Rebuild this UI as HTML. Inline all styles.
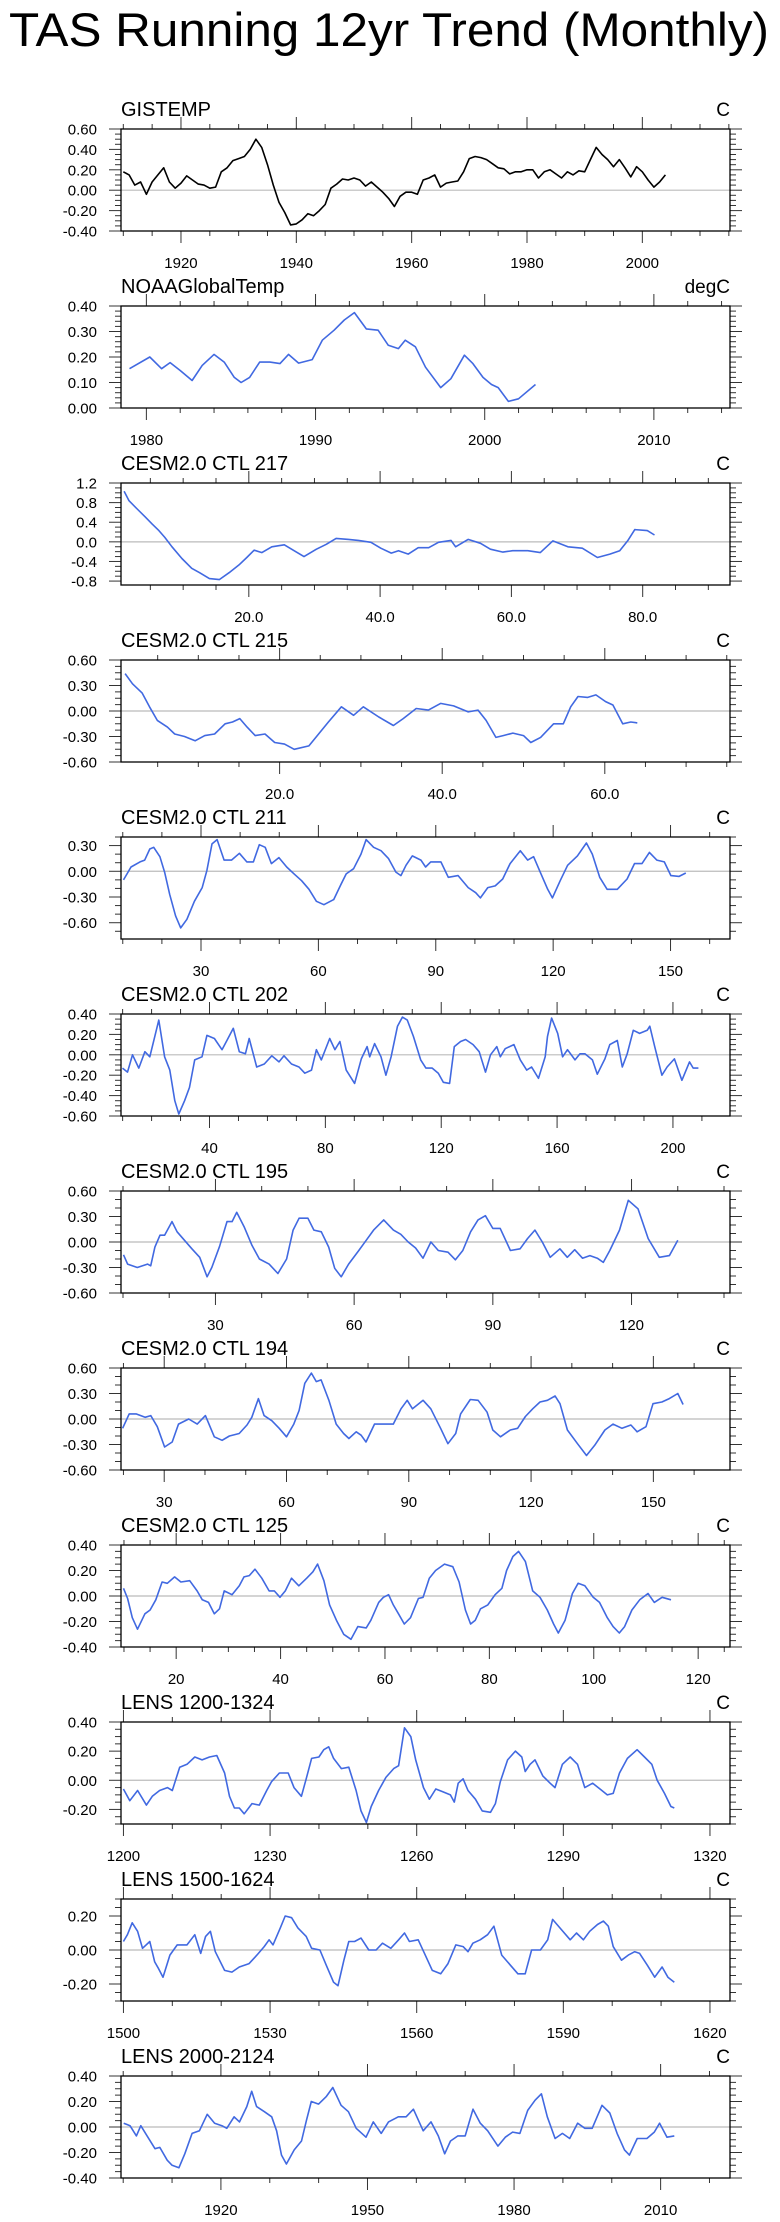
<!DOCTYPE html>
<html><head><meta charset="utf-8">
<style>
html,body{margin:0;padding:0;background:#fff;}
svg{display:block;font-family:"Liberation Sans",Arial,sans-serif;}
</style></head>
<body>
<svg id="chart" width="780" height="2222" viewBox="0 0 780 2222" xmlns="http://www.w3.org/2000/svg">
<text x="9" y="46" font-size="47" textLength="760" lengthAdjust="spacingAndGlyphs" fill="#000">TAS Running 12yr Trend (Monthly)</text>
</svg>
<script>
// ---- data arrays ----
const gisYears = [];
for (let y = 1910; y <= 2004; y++) gisYears.push(y);
const gisVals = [0.18,0.15,0.05,0.08,-0.04,0.08,0.15,0.22,0.08,0.02,0.07,0.14,0.10,0.06,0.05,0.02,0.03,0.18,0.22,0.29,0.31,0.33,0.40,0.50,0.42,0.25,0.05,-0.12,-0.22,-0.34,-0.33,-0.29,-0.23,-0.25,-0.20,-0.14,0.02,0.06,0.11,0.10,0.12,0.10,0.04,0.08,0.03,-0.02,-0.08,-0.16,-0.06,-0.02,-0.02,-0.04,0.10,0.12,0.15,0.03,0.07,0.08,0.09,0.18,0.31,0.33,0.32,0.30,0.26,0.22,0.21,0.16,0.18,0.18,0.20,0.20,0.12,0.18,0.20,0.16,0.12,0.18,0.15,0.19,0.18,0.30,0.42,0.35,0.30,0.23,0.30,0.22,0.13,0.23,0.18,0.10,0.03,0.08,0.15];

const noaaX = [1979.0,1980.2,1980.9,1981.4,1982.0,1982.7,1983.3,1984.0,1984.6,1985.2,1985.6,1986.1,1986.7,1987.3,1987.9,1988.4,1989.0,1989.8,1990.4,1991.1,1991.7,1992.3,1993.0,1993.7,1994.3,1994.9,1995.3,1995.9,1996.5,1997.4,1998.0,1998.8,1999.3,1999.9,2000.4,2000.8,2001.4,2002.0,2003.0];
const noaaY = [0.154,0.20,0.154,0.178,0.147,0.108,0.167,0.21,0.18,0.12,0.10,0.12,0.18,0.18,0.174,0.21,0.176,0.19,0.266,0.305,0.345,0.374,0.31,0.305,0.246,0.233,0.266,0.24,0.16,0.08,0.115,0.207,0.174,0.12,0.092,0.08,0.026,0.036,0.092];

const c217X = [1.0,1.75,3.0,4.2,5.3,6.3,7.2,8.3,9.8,11.3,12.5,14.0,15.5,17.0,18.5,19.7,20.8,22.0,23.5,25.4,26.9,28.4,30.3,31.8,33.3,35.2,36.7,38.6,40.1,41.7,42.8,44.3,45.8,47.4,48.9,50.8,51.5,53.4,55.3,56.8,58.7,60.2,62.5,64.4,66.3,68.6,70.8,73.1,75.0,76.5,77.7,78.8,80.7,81.8];
const c217Y = [1.03,0.84,0.67,0.51,0.36,0.23,0.09,-0.10,-0.34,-0.54,-0.63,-0.75,-0.77,-0.63,-0.47,-0.32,-0.17,-0.22,-0.10,-0.06,-0.18,-0.30,-0.15,-0.05,0.07,0.05,0.03,-0.01,-0.13,-0.23,-0.18,-0.25,-0.12,-0.12,-0.01,0.03,-0.10,0.05,-0.03,-0.15,-0.21,-0.18,-0.18,-0.22,0.02,-0.10,-0.13,-0.32,-0.25,-0.18,0.02,0.25,0.23,0.14];

const c215X = [0.99,1.9,3.1,4.0,4.95,6.2,7.1,8.3,9.6,10.8,12.0,13.3,14.2,15.1,16.0,17.0,18.2,19.4,20.6,21.8,23.6,24.8,26.0,27.6,29.1,30.3,32.2,34.0,35.2,36.8,38.3,39.8,41.4,43.2,44.4,45.4,46.6,47.5,48.7,50.0,50.9,52.1,53.7,54.9,55.8,56.7,57.9,58.9,60.1,61.0,62.2,63.2,64.0];
const c215Y = [0.44,0.32,0.21,0.05,-0.11,-0.19,-0.27,-0.30,-0.35,-0.29,-0.27,-0.15,-0.13,-0.09,-0.19,-0.29,-0.27,-0.37,-0.39,-0.45,-0.41,-0.27,-0.13,0.05,-0.05,0.05,-0.07,-0.17,-0.09,0.03,0.01,0.09,0.06,-0.01,0.01,-0.11,-0.31,-0.29,-0.26,-0.29,-0.37,-0.31,-0.15,-0.15,0.05,0.17,0.16,0.19,0.11,0.07,-0.15,-0.13,-0.14];

const c211X = [10.2,12.1,14.4,15.6,16.9,17.9,19.5,20.7,22.0,23.5,24.8,26.4,28.3,30.3,31.5,32.8,34.1,35.9,37.8,39.8,41.7,43.4,44.9,46.4,48.0,49.9,51.9,53.8,55.7,57.6,59.5,61.4,63.9,65.8,67.1,69.0,70.9,72.2,74.1,76.0,77.9,79.8,81.1,82.4,84.0,86.2,87.4,88.7,91.3,93.2,95.7,98.3,100.2,101.4,103.3,105.2,107.1,109.0,111.6,113.5,115.0,116.7,118.6,119.8,121.8,123.7,126.2,128.5,130.0,131.9,133.8,136.4,138.9,140.8,142.7,144.6,146.5,148.4,150.1,152.2,153.9];
const c211Y = [-0.10,0.05,0.11,0.13,0.26,0.28,0.17,-0.01,-0.27,-0.52,-0.66,-0.56,-0.35,-0.19,0.01,0.32,0.37,0.13,0.13,0.21,0.11,0.11,0.31,0.28,0.09,0.16,0.05,-0.03,-0.11,-0.21,-0.35,-0.39,-0.33,-0.15,-0.03,0.03,0.20,0.37,0.28,0.24,0.15,-0.01,-0.05,0.07,0.18,0.13,0.05,0.11,0.11,-0.07,-0.05,-0.19,-0.25,-0.31,-0.19,-0.17,-0.09,0.09,0.24,0.13,0.17,-0.01,-0.21,-0.31,-0.11,0.07,0.18,0.33,0.20,-0.07,-0.21,-0.21,-0.09,0.09,0.09,0.22,0.13,0.11,-0.05,-0.06,-0.02];

const c202X = [9.95,11.7,13.4,15.6,17.7,19.4,21.1,22.5,24.5,26.3,28.0,29.4,31.4,33.1,34.9,37.4,39.1,41.7,44.3,46.0,48.2,50.3,52.4,53.7,56.3,58.9,61.5,64.0,65.7,68.3,70.9,72.9,75.2,76.9,78.6,81.5,83.3,85.0,87.2,90.1,92.4,94.4,95.3,97.0,99.2,100.9,102.7,104.9,106.6,108.3,110.4,112.9,114.7,116.9,119.0,120.7,122.9,124.5,126.7,128.4,131.0,133.1,135.3,137.0,139.2,140.4,142.1,145.1,147.3,149.5,151.2,153.6,155.9,156.7,158.1,160.2,161.9,163.6,166.2,167.9,169.6,172.2,173.9,176.5,178.2,180.8,182.5,184.2,186.3,188.5,191.1,192.0,193.7,196.2,198.0,200.5,203.1,205.7,207.0,208.8];
const c202Y = [-0.13,-0.17,0.00,-0.13,0.03,-0.02,0.18,0.34,-0.02,-0.15,-0.45,-0.58,-0.45,-0.32,-0.05,-0.02,0.19,0.16,0.05,0.14,0.26,0.03,0.01,0.16,-0.12,-0.09,-0.01,-0.07,-0.01,-0.09,-0.12,-0.18,-0.15,0.05,-0.05,0.16,0.05,0.13,-0.15,-0.28,-0.04,0.08,-0.02,0.11,-0.02,-0.20,-0.02,0.28,0.37,0.34,0.18,-0.05,-0.13,-0.13,-0.18,-0.27,-0.28,0.08,0.13,0.15,0.10,0.03,-0.17,0.00,0.08,-0.02,0.06,0.10,-0.05,-0.15,-0.12,-0.23,-0.02,0.18,0.36,0.21,-0.02,0.05,-0.05,0.01,0.01,-0.05,-0.19,-0.04,0.10,0.14,-0.12,0.01,0.24,0.21,0.24,0.28,0.08,-0.20,-0.12,-0.04,-0.25,-0.07,-0.13,-0.13];

const c195X = [10.1,11.0,13.1,15.3,16.0,16.9,18.0,19.0,20.6,21.7,23.3,24.9,26.6,28.2,29.2,30.9,32.5,33.6,34.6,36.2,37.9,39.5,41.6,43.5,45.4,46.8,48.1,50.0,51.3,52.9,54.5,55.8,57.2,58.8,61.0,62.6,64.2,66.4,68.5,70.1,71.7,73.3,74.9,76.6,78.2,80.3,81.9,83.5,85.2,86.8,88.4,90.0,91.6,93.8,95.9,97.5,99.1,100.7,102.4,104.5,106.1,107.7,109.4,111.0,112.6,113.9,115.3,117.4,119.3,121.4,123.6,126.0,128.2,130.0];
const c195Y = [-0.15,-0.26,-0.30,-0.26,-0.28,-0.06,0.08,0.08,0.24,0.12,0.02,-0.08,-0.18,-0.41,-0.30,-0.05,0.24,0.24,0.35,0.18,-0.04,-0.20,-0.26,-0.37,-0.20,0.14,0.28,0.28,0.14,0.12,-0.06,-0.31,-0.41,-0.26,-0.10,0.02,0.14,0.26,0.14,0.09,0.00,-0.07,-0.19,0.00,-0.10,-0.12,-0.21,-0.10,0.12,0.26,0.31,0.16,0.16,-0.10,-0.08,0.04,0.14,0.00,-0.18,-0.08,-0.18,-0.09,-0.19,-0.16,-0.19,-0.24,-0.10,0.14,0.49,0.39,0.04,-0.18,-0.16,0.02];

const c194X = [19.8,21.4,23.1,25.3,26.7,28.3,30.1,31.96,33.5,36.0,38.1,40.1,42.3,44.2,46.0,48.4,50.3,51.5,53.1,54.5,56.4,58.2,60.0,61.8,63.1,64.5,66.1,67.3,68.5,70.4,72.2,74.0,75.3,77.1,78.3,79.5,81.6,83.8,86.2,88.1,89.6,90.9,93.5,95.4,97.8,99.6,101.5,102.7,105.1,107.0,109.2,110.6,112.5,114.9,116.7,118.6,120.4,122.2,124.0,125.9,127.1,128.9,131.4,133.6,135.6,138.1,140.1,142.3,144.5,146.0,148.2,149.9,152.1,153.9,156.0,157.3];
const c194Y = [-0.11,0.06,0.06,0.02,0.04,-0.09,-0.33,-0.27,-0.06,0.00,-0.06,0.04,-0.21,-0.25,-0.20,-0.17,-0.07,0.02,0.24,0.04,-0.02,-0.11,-0.21,-0.06,0.10,0.42,0.54,0.44,0.46,0.22,-0.06,-0.17,-0.23,-0.15,-0.19,-0.27,-0.06,-0.06,-0.06,0.12,0.22,0.12,0.22,0.12,-0.11,-0.29,-0.17,0.06,0.23,0.22,0.08,-0.13,-0.21,-0.13,-0.11,0.03,0.12,0.20,0.22,0.27,0.18,-0.13,-0.29,-0.43,-0.31,-0.13,-0.06,-0.11,-0.07,-0.15,-0.09,0.18,0.20,0.24,0.30,0.17];

const c125X = [9.9,10.7,11.6,12.6,14.0,15.0,16.1,17.3,18.3,19.7,20.9,22.6,24.0,25.0,26.2,27.3,28.3,29.2,30.7,32.1,33.0,34.0,35.1,36.4,37.8,38.8,39.9,40.9,42.1,43.5,45.0,46.2,47.1,48.3,49.4,50.7,52.1,53.5,54.8,56.4,57.3,58.8,59.7,60.7,61.6,62.6,63.7,64.9,66.4,67.3,68.5,69.7,71.4,73.0,74.2,75.4,76.4,77.3,78.3,79.7,81.1,82.4,83.3,84.5,85.6,86.9,88.3,89.7,91.1,92.3,93.2,94.5,95.9,97.0,98.3,99.9,101.1,102.6,103.7,104.9,105.9,107.3,108.8,110.4,111.6,113.1,114.8];
const c125Y = [0.06,-0.02,-0.17,-0.26,-0.14,-0.11,-0.03,0.11,0.10,0.15,0.11,0.12,0.04,-0.03,-0.05,-0.14,-0.10,0.04,0.01,0.08,0.15,0.16,0.21,0.14,0.04,0.04,-0.01,0.04,0.14,0.08,0.14,0.19,0.25,0.12,-0.07,-0.19,-0.30,-0.34,-0.24,-0.25,-0.19,-0.05,-0.01,0.01,-0.07,-0.14,-0.22,-0.17,-0.02,-0.01,0.14,0.20,0.25,0.23,0.11,-0.11,-0.22,-0.19,-0.10,-0.07,0.01,0.06,0.20,0.31,0.35,0.27,0.04,-0.01,-0.11,-0.22,-0.29,-0.19,0.02,0.10,0.08,-0.01,-0.05,-0.17,-0.24,-0.29,-0.24,-0.11,-0.03,0.02,-0.05,-0.01,-0.03];

const l1200X = [1200.0,1201.3,1202.9,1204.7,1205.9,1207.4,1209.0,1210.0,1211.5,1213.0,1214.6,1216.1,1217.6,1219.1,1220.7,1221.7,1222.7,1223.7,1224.7,1226.3,1227.8,1229.3,1230.3,1231.9,1233.7,1234.9,1236.4,1237.4,1238.5,1240.0,1241.0,1242.0,1243.0,1244.6,1246.1,1247.6,1248.6,1249.7,1250.7,1252.2,1253.7,1255.3,1256.3,1257.5,1258.8,1259.8,1261.4,1262.6,1263.9,1265.4,1266.9,1267.7,1268.5,1269.5,1270.5,1272.0,1273.4,1275.1,1276.1,1277.1,1278.6,1280.2,1281.5,1282.2,1283.2,1284.2,1285.8,1287.3,1288.3,1289.8,1291.4,1292.9,1294.4,1296.0,1297.5,1299.0,1300.2,1301.5,1303.1,1305.1,1306.6,1308.1,1309.2,1310.7,1312.0,1312.7];
const l1200Y = [-0.06,-0.14,-0.07,-0.17,-0.11,-0.07,-0.05,-0.07,0.09,0.11,0.16,0.14,0.16,0.17,0.05,-0.11,-0.19,-0.19,-0.23,-0.16,-0.17,-0.07,-0.01,0.05,0.05,-0.05,-0.11,0.01,0.15,0.16,0.21,0.23,0.15,0.08,0.09,-0.07,-0.21,-0.29,-0.18,-0.07,0.02,0.08,0.10,0.36,0.30,0.14,-0.05,-0.13,-0.06,-0.08,-0.10,-0.15,-0.02,0.01,-0.07,-0.13,-0.21,-0.22,-0.16,-0.01,0.14,0.20,0.16,0.06,0.11,0.14,0.03,-0.02,-0.05,0.11,0.16,0.11,-0.05,-0.02,-0.06,-0.10,-0.09,0.05,0.15,0.21,0.16,0.11,0.00,-0.09,-0.18,-0.19];

const l1500X = [1500.0,1500.8,1501.8,1502.9,1503.9,1505.4,1506.4,1507.2,1508.1,1509.5,1511.0,1513.0,1514.6,1515.8,1516.8,1517.8,1518.8,1520.7,1522.2,1523.7,1525.7,1527.3,1528.8,1529.8,1530.6,1532.1,1533.1,1534.4,1535.7,1537.4,1538.5,1540.2,1541.5,1543.0,1543.9,1545.1,1546.1,1547.3,1548.6,1550.2,1551.7,1553.0,1554.7,1556.3,1557.5,1558.5,1560.3,1561.6,1563.2,1564.9,1566.4,1568.0,1569.5,1570.5,1571.5,1573.0,1574.5,1575.8,1577.4,1579.2,1580.7,1582.2,1583.5,1585.3,1586.8,1587.8,1589.3,1591.4,1592.7,1594.1,1595.4,1597.0,1598.2,1599.2,1600.2,1601.9,1603.3,1604.6,1605.6,1607.2,1608.7,1610.2,1611.4,1612.7];
const l1500Y = [0.05,0.09,0.16,0.11,0.01,0.05,-0.07,-0.11,-0.16,-0.03,0.03,0.03,0.09,-0.02,0.08,0.11,-0.01,-0.12,-0.13,-0.10,-0.08,-0.03,0.02,0.06,0.03,0.13,0.20,0.19,0.13,0.08,0.01,0.00,-0.09,-0.19,-0.21,-0.06,0.05,0.05,0.07,0.00,0.00,0.04,0.01,0.06,0.10,0.05,0.06,-0.02,-0.12,-0.14,-0.08,0.03,0.02,-0.01,0.04,0.06,0.09,0.14,-0.03,-0.09,-0.14,-0.14,0.00,0.00,0.06,0.18,0.13,0.06,0.10,0.06,0.11,0.15,0.17,0.14,0.02,-0.06,-0.03,-0.01,-0.02,-0.09,-0.16,-0.10,-0.16,-0.19];

const l2000X = [1900.1,1901.4,1902.7,1903.6,1904.9,1906.5,1907.5,1909.0,1910.0,1911.4,1912.6,1914.1,1915.6,1917.2,1918.7,1920.2,1921.2,1922.7,1923.8,1925.3,1926.3,1927.3,1928.9,1930.4,1931.4,1932.4,1933.4,1935.0,1936.5,1937.5,1938.5,1940.0,1941.6,1942.9,1944.6,1946.1,1947.7,1949.7,1951.2,1952.8,1954.3,1956.3,1957.9,1959.4,1961.4,1963.0,1964.5,1965.8,1967.0,1968.5,1970.0,1971.6,1973.1,1974.6,1976.7,1978.2,1979.7,1981.2,1982.8,1984.3,1985.6,1986.8,1988.4,1989.9,1991.4,1993.0,1994.5,1996.0,1998.0,1999.6,2001.1,2002.6,2003.6,2005.2,2007.2,2008.7,2009.8,2011.3,2012.8];
const l2000Y = [0.03,0.01,-0.07,0.01,-0.07,-0.17,-0.16,-0.26,-0.30,-0.32,-0.21,-0.05,-0.03,0.10,0.03,0.01,-0.01,0.08,0.04,0.16,0.28,0.16,0.12,0.08,-0.03,-0.22,-0.29,-0.18,-0.11,0.05,0.20,0.18,0.24,0.31,0.17,0.12,-0.01,-0.08,0.04,-0.05,0.04,0.08,0.08,0.14,-0.03,0.04,-0.07,-0.21,-0.11,-0.07,-0.07,0.14,0.03,-0.03,-0.15,-0.08,-0.04,-0.05,0.13,0.21,0.26,0.08,-0.09,-0.05,-0.09,0.03,-0.01,-0.01,0.17,0.11,-0.05,-0.18,-0.22,-0.09,-0.09,-0.04,0.03,-0.08,-0.07];

// panel configs: title, units, x/y ranges, ticks
const panels = [
 {name:'gistemp',title:'GISTEMP',unit:'C',xs:gisYears,ys:gisVals,color:'#000',x0:1909.6,x1:2015.2,y0:-0.4,y1:0.6,xMaj:[1920,1940,1960,1980,2000],xFmt:0,xMin:5,yMaj:[-0.4,-0.2,0,0.2,0.4,0.6],yFmt:2,yMin:0.05},
 {name:'noaa',title:'NOAAGlobalTemp',unit:'degC',xs:noaaX,ys:noaaY,color:'#4169e1',x0:1978.5,x1:2014.5,y0:0,y1:0.4,xMaj:[1980,1990,2000,2010],xFmt:0,xMin:2,yMaj:[0,0.1,0.2,0.3,0.4],yFmt:2,yMin:0.02},
 {name:'ctl217',title:'CESM2.0 CTL 217',unit:'C',xs:c217X,ys:c217Y,color:'#4169e1',x0:0.53,x1:93.3,y0:-0.88,y1:1.2,xMaj:[20,40,60,80],xFmt:1,xMin:5,yMaj:[-0.8,-0.4,0,0.4,0.8,1.2],yFmt:1,yMin:0.1},
 {name:'ctl215',title:'CESM2.0 CTL 215',unit:'C',xs:c215X,ys:c215Y,color:'#4169e1',x0:0.49,x1:75.4,y0:-0.6,y1:0.6,xMaj:[20,40,60],xFmt:1,xMin:5,yMaj:[-0.6,-0.3,0,0.3,0.6],yFmt:2,yMin:0.075},
 {name:'ctl211',title:'CESM2.0 CTL 211',unit:'C',xs:c211X,ys:c211Y,color:'#4169e1',x0:9.55,x1:165.2,y0:-0.79,y1:0.4,xMaj:[30,60,90,120,150],xFmt:0,xMin:10,yMaj:[-0.6,-0.3,0,0.3],yFmt:2,yMin:0.1},
 {name:'ctl202',title:'CESM2.0 CTL 202',unit:'C',xs:c202X,ys:c202Y,color:'#4169e1',x0:9.44,x1:219.7,y0:-0.6,y1:0.4,xMaj:[40,80,120,160,200],xFmt:0,xMin:10,yMaj:[-0.6,-0.4,-0.2,0,0.2,0.4],yFmt:2,yMin:0.05},
 {name:'ctl195',title:'CESM2.0 CTL 195',unit:'C',xs:c195X,ys:c195Y,color:'#4169e1',x0:9.57,x1:141.3,y0:-0.6,y1:0.6,xMaj:[30,60,90,120],xFmt:0,xMin:10,yMaj:[-0.6,-0.3,0,0.3,0.6],yFmt:2,yMin:0.1},
 {name:'ctl194',title:'CESM2.0 CTL 194',unit:'C',xs:c194X,ys:c194Y,color:'#4169e1',x0:19.4,x1:168.8,y0:-0.6,y1:0.6,xMaj:[30,60,90,120,150],xFmt:0,xMin:10,yMaj:[-0.6,-0.3,0,0.3,0.6],yFmt:2,yMin:0.1},
 {name:'ctl125',title:'CESM2.0 CTL 125',unit:'C',xs:c125X,ys:c125Y,color:'#4169e1',x0:9.43,x1:126.1,y0:-0.4,y1:0.4,xMaj:[20,40,60,80,100,120],xFmt:0,xMin:5,yMaj:[-0.4,-0.2,0,0.2,0.4],yFmt:2,yMin:0.05},
 {name:'lens1200',title:'LENS 1200-1324',unit:'C',xs:l1200X,ys:l1200Y,color:'#4169e1',x0:1199.5,x1:1324.1,y0:-0.3,y1:0.4,xMaj:[1200,1230,1260,1290,1320],xFmt:0,xMin:10,yMaj:[-0.2,0,0.2,0.4],yFmt:2,yMin:0.05},
 {name:'lens1500',title:'LENS 1500-1624',unit:'C',xs:l1500X,ys:l1500Y,color:'#4169e1',x0:1499.5,x1:1624.1,y0:-0.3,y1:0.3,xMaj:[1500,1530,1560,1590,1620],xFmt:0,xMin:10,yMaj:[-0.2,0,0.2],yFmt:2,yMin:0.05},
 {name:'lens2000',title:'LENS 2000-2124',unit:'C',xs:l2000X,ys:l2000Y,color:'#4169e1',x0:1899.55,x1:2024.2,y0:-0.4,y1:0.4,xMaj:[1920,1950,1980,2010],xFmt:0,xMin:10,yMaj:[-0.4,-0.2,0,0.2,0.4],yFmt:2,yMin:0.05}
];

const NS = 'http://www.w3.org/2000/svg';
const svg = document.getElementById('chart');
const BL = 121, BR = 730, BH = 102, TOP0 = 129, PITCH = 177;

function mk(tag, attrs, parent) {
  const e = document.createElementNS(NS, tag);
  for (const k in attrs) e.setAttribute(k, attrs[k]);
  parent.appendChild(e);
  return e;
}

panels.forEach((p, i) => {
  const top = TOP0 + i * PITCH, bot = top + BH;
  const sx = v => BL + (v - p.x0) / (p.x1 - p.x0) * (BR - BL);
  const sy = v => top + (p.y1 - v) / (p.y1 - p.y0) * BH;
  const g = mk('g', {}, svg);
  
  

  const t = mk('text', {x: BL, y: top - 13, 'font-size': 20, fill: '#000'}, g);
  t.textContent = p.title;
  
  
  const u = mk('text', {x: BR, y: top - 13, 'font-size': 19, fill: '#000', 'text-anchor': 'end'}, g);
  u.textContent = p.unit;
  
  

  // zero line
  if (p.y0 < 0 && p.y1 > 0) {
    const z = mk('line', {x1: BL, x2: BR, y1: sy(0), y2: sy(0), stroke: '#bbb', 'stroke-width': 1.2}, g);
    
    
  }

  // x minor/major ticks
  const ticks = mk('g', {stroke: '#333', 'stroke-width': 1}, g);
  
  
  const startMin = Math.ceil(p.x0 / p.xMin - 1e-9) * p.xMin;
  for (let v = startMin; v <= p.x1 + 1e-9; v += p.xMin) {
    const isMaj = p.xMaj.some(m => Math.abs(m - v) < 1e-6);
    const L = isMaj ? 12 : 5, X = sx(v);
    mk('line', {x1: X, x2: X, y1: bot, y2: bot + L}, ticks);
    mk('line', {x1: X, x2: X, y1: top, y2: top - L}, ticks);
  }
  const startYMin = Math.ceil(p.y0 / p.yMin - 1e-6) * p.yMin;
  for (let v = startYMin; v <= p.y1 + 1e-6; v += p.yMin) {
    const isMaj = p.yMaj.some(m => Math.abs(m - v) < 1e-6);
    const L = isMaj ? 12 : 6, Y = sy(v);
    mk('line', {x1: BL, x2: BL - L, y1: Y, y2: Y}, ticks);
    mk('line', {x1: BR, x2: BR + L, y1: Y, y2: Y}, ticks);
  }

  p.xMaj.forEach(v => {
    const tl = mk('text', {x: sx(v), y: bot + 37, 'font-size': 15, 'text-anchor': 'middle', fill: '#000'}, g);
    tl.textContent = v.toFixed(p.xFmt);
    
    
  });
  p.yMaj.forEach(v => {
    const tl = mk('text', {x: 97, y: sy(v) + 5.5, 'font-size': 15, 'text-anchor': 'end', fill: '#000'}, g);
    tl.textContent = v.toFixed(p.yFmt);
    
    
  });

  // series
  let d = '';
  p.xs.forEach((x, k) => { d += (k ? 'L' : 'M') + sx(x).toFixed(1) + ',' + sy(p.ys[k]).toFixed(1); });
  const line = mk('path', {d: d, fill: 'none', stroke: p.color, 'stroke-width': 1.6, 'stroke-linejoin': 'round'}, g);
  
  

  // box
  const box = mk('rect', {x: BL, y: top, width: BR - BL, height: BH, fill: 'none', stroke: '#000', 'stroke-width': 1.3}, g);
  
  
});
</script>
</body></html>
